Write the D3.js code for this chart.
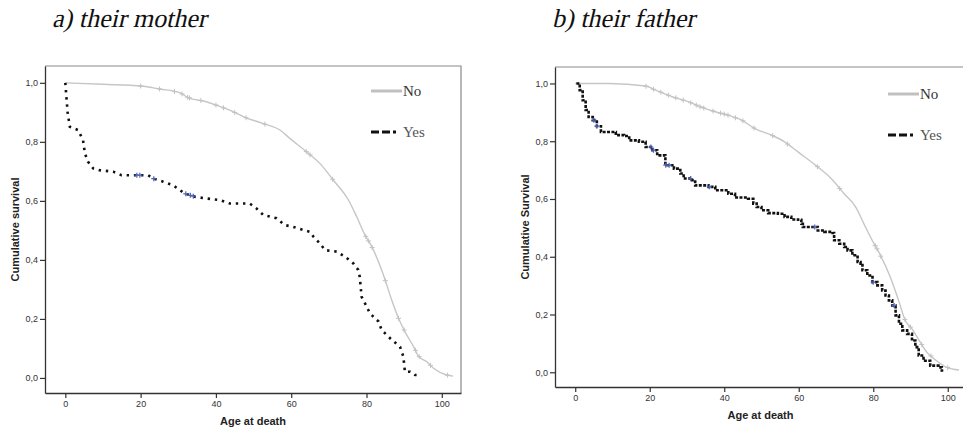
<!DOCTYPE html>
<html>
<head>
<meta charset="utf-8">
<script src="https://cdn.jsdelivr.net/npm/d3@7"></script>
<style>
  body { margin: 0; background: #fff; }
  svg { display: block; }
</style>
</head>
<body>
<div id="chart"></div>
<script>
// mother panel: survival curves
const motherNoAge = [0, 10, 20.2, 25.1, 30.4, 32.6, 37.5, 40.2, 44.1, 47.7, 52.6, 57, 59.7, 64.1, 67.6, 71.2, 75.2, 77.4, 79.6, 81.4, 84.5, 86.7, 88.5, 90.2, 92.5, 93.8, 96, 97.8, 101.3, 103];
const motherNoSurv = [1.0, 0.995, 0.989, 0.979, 0.967, 0.950, 0.936, 0.924, 0.905, 0.883, 0.862, 0.840, 0.811, 0.766, 0.727, 0.670, 0.603, 0.546, 0.484, 0.445, 0.349, 0.264, 0.202, 0.157, 0.106, 0.074, 0.055, 0.033, 0.010, 0.006];
const motherNoCensor = [20, 25, 29, 31, 32.5, 33, 36, 40, 42, 45, 48, 53, 64, 65, 71, 79.8, 80.5, 81.5, 85, 88.5, 90, 93, 94, 97, 101.5];

const motherYesAge = [0, 0.3, 0.6, 1.2, 3.4, 4.7, 5.2, 6, 7.4, 9.1, 12.7, 14.9, 22, 23.3, 26, 28.6, 30.4, 31.7, 34.4, 37.5, 41, 43.7, 49, 50.8, 52.6, 56.1, 58.3, 60.5, 65, 65.9, 67.6, 69, 72.1, 74.3, 76.5, 77.8, 78.2, 78.7, 79.6, 80.9, 83.2, 84, 86.7, 88.9, 89.8, 90.2, 91.6, 92.9, 93.5];
const motherYesSurv = [1.0, 0.95, 0.90, 0.851, 0.84, 0.806, 0.761, 0.733, 0.71, 0.704, 0.699, 0.687, 0.687, 0.676, 0.665, 0.653, 0.637, 0.625, 0.614, 0.608, 0.603, 0.591, 0.591, 0.574, 0.552, 0.541, 0.518, 0.512, 0.495, 0.479, 0.456, 0.433, 0.428, 0.411, 0.388, 0.366, 0.343, 0.275, 0.253, 0.219, 0.191, 0.163, 0.129, 0.106, 0.072, 0.021, 0.021, 0.010, 0.010];
const motherYesCensor = [19, 19.8, 23.5, 32, 33.2, 34];

// father panel
const fatherNoAge = [0, 9.1, 18.9, 21.6, 26, 30.5, 33.6, 37.6, 41.1, 44.7, 48.2, 52.7, 56.2, 59.8, 65.1, 68.7, 72.2, 75.3, 77.5, 79.7, 81.5, 84.6, 86.8, 88.6, 90.4, 92.6, 94.4, 97, 99.7, 103];
const fatherNoSurv = [1.0, 1.0, 0.991, 0.977, 0.954, 0.936, 0.919, 0.902, 0.890, 0.873, 0.844, 0.821, 0.798, 0.763, 0.711, 0.671, 0.618, 0.572, 0.514, 0.457, 0.416, 0.329, 0.249, 0.179, 0.150, 0.104, 0.069, 0.040, 0.017, 0.008];
const fatherNoCensor = [19, 21, 23, 25, 27, 29, 31, 32.5, 33.5, 34.5, 37, 39, 40, 41, 43, 45, 48, 53, 57, 65, 71, 80.5, 81, 82, 88.5, 90, 93, 95.5, 100];

const fatherYesAge = [0.3, 1.2, 2.0, 2.8, 3.6, 4.7, 5.8, 6.9, 10.9, 13.1, 14.5, 17.1, 18.9, 20.7, 22, 24.2, 26.5, 28.2, 29.1, 31.3, 32.2, 35.8, 37.6, 41.1, 42.9, 46.4, 47.8, 48.7, 50, 51.8, 54.4, 56.2, 58, 59.8, 60.7, 61.1, 65.1, 66.9, 69.1, 69.5, 70.9, 72.2, 73.1, 74.4, 75.8, 76.6, 77.1, 78.4, 79.8, 81.1, 82.4, 83.3, 84.2, 85.1, 86, 86.9, 87.8, 89.1, 90.4, 91.3, 92.2, 93.5, 95.3, 97.5, 98.4, 98.8];
const fatherYesSurv = [1.0, 0.977, 0.942, 0.908, 0.884, 0.873, 0.852, 0.832, 0.821, 0.818, 0.803, 0.798, 0.780, 0.769, 0.751, 0.717, 0.705, 0.688, 0.671, 0.665, 0.647, 0.642, 0.630, 0.618, 0.605, 0.601, 0.584, 0.572, 0.561, 0.551, 0.549, 0.538, 0.529, 0.528, 0.514, 0.503, 0.491, 0.486, 0.482, 0.457, 0.445, 0.434, 0.422, 0.405, 0.382, 0.376, 0.353, 0.335, 0.312, 0.301, 0.283, 0.266, 0.249, 0.231, 0.197, 0.168, 0.145, 0.133, 0.110, 0.087, 0.058, 0.040, 0.023, 0.017, 0.006, 0.006];
const fatherYesCensor = [5, 5.8, 20.3, 21, 24.3, 25.2, 31, 36, 64.3, 80, 85.6];

const xTicks = [0, 20, 40, 60, 80, 100];
const yTicks = [0, 0.2, 0.4, 0.6, 0.8, 1.0];
const legendLabels = ["No", "Yes"];

const panels = [
    {title: "a) their mother", ylabel: "Cumulative survival", left: 45, top: 66, right: 461, bottom: 393, titleX: 52,
     xDomain: [-5.4, 105.1],
     noAge: motherNoAge, noSurv: motherNoSurv, noCensor: motherNoCensor,
     yesAge: motherYesAge, yesSurv: motherYesSurv, yesCensor: motherYesCensor,
     yesCurve: d3.curveLinear, yesDash: "2.4,4.8", legX: 371, legY: 91},
    {title: "b) their father", ylabel: "Cumulative Survival", left: 555, top: 67, right: 966, bottom: 387, titleX: 552,
     xDomain: [-5.43, 104.9],
     noAge: fatherNoAge, noSurv: fatherNoSurv, noCensor: fatherNoCensor,
     yesAge: fatherYesAge, yesSurv: fatherYesSurv, yesCensor: fatherYesCensor,
     yesCurve: d3.curveStepAfter, yesDash: "3,1.4", legX: 888, legY: 94}
];

const svg = d3.select("#chart").append("svg")
    .attr("width", 963)
    .attr("height", 432);

panels.forEach(p => {
    const x = d3.scaleLinear().domain(p.xDomain).range([p.left, p.right]);
    const y = d3.scaleLinear().domain([-0.051, 1.057]).range([p.bottom, p.top]);

    const g = svg.append("g");

    // serif title, slanted by hand since the italic face falls back to a sans
    g.append("text")
        .attr("transform", `translate(${p.titleX},27) skewX(-13)`)
        .attr("font-family", "'Liberation Serif', 'Times New Roman', serif")
        .attr("font-size", 26)
        .attr("fill", "#111")
        .text(p.title);

    // frame top and right
    g.append("path")
        .attr("d", `M${p.left},${p.top}H${p.right}V${p.bottom}`)
        .attr("fill", "none")
        .attr("stroke", "#8a8a8a")
        .attr("stroke-width", 1.2);

    const xAxis = g.append("g")
        .attr("transform", `translate(0,${p.bottom})`)
        .call(d3.axisBottom(x).tickValues(xTicks).tickSize(5).tickPadding(3).tickSizeOuter(0));
    const yAxis = g.append("g")
        .attr("transform", `translate(${p.left},0)`)
        .call(d3.axisLeft(y).tickValues(yTicks).tickSize(5).tickPadding(2).tickSizeOuter(0)
            .tickFormat(d => d3.format(".1f")(d).replace(".", ",")));
    [xAxis, yAxis].forEach(a => {
        a.select(".domain").attr("stroke", "#333").attr("stroke-width", 1.3);
        a.selectAll(".tick line").attr("stroke", "#333").attr("stroke-width", 1.2);
        a.selectAll("text").attr("fill", "#333").attr("font-family", "Arial, 'Liberation Sans', sans-serif").attr("font-size", 9);
    });

    g.append("text")
        .attr("x", (p.left + p.right) / 2)
        .attr("y", p.bottom + 32)
        .attr("text-anchor", "middle")
        .attr("font-family", "Arial, 'Liberation Sans', sans-serif")
        .attr("font-weight", "bold")
        .attr("font-size", 11)
        .attr("fill", "#222")
        .text("Age at death");

    g.append("text")
        .attr("transform", `translate(${p.left - 26},${(p.top + p.bottom) / 2}) rotate(-90)`)
        .attr("text-anchor", "middle")
        .attr("font-family", "Arial, 'Liberation Sans', sans-serif")
        .attr("font-weight", "bold")
        .attr("font-size", 11)
        .attr("fill", "#222")
        .text(p.ylabel);

    const clipId = "clip" + p.left;
    svg.append("clipPath").attr("id", clipId)
        .append("rect").attr("x", p.left + 1).attr("y", p.top).attr("width", p.right - p.left - 1).attr("height", p.bottom - p.top - 1);
    const plot = g.append("g").attr("clip-path", `url(#${clipId})`);

    const noData = p.noAge.map((a, i) => [a, p.noSurv[i]]);
    const yesData = p.yesAge.map((a, i) => [a, p.yesSurv[i]]);
    const smooth = d3.line().x(d => x(d[0])).y(d => y(d[1])).curve(d3.curveMonotoneX);
    const yesLine = d3.line().x(d => x(d[0])).y(d => y(d[1])).curve(p.yesCurve);

    plot.append("path")
        .datum(noData)
        .attr("d", smooth)
        .attr("fill", "none")
        .attr("stroke", "#c6c6c6")
        .attr("stroke-width", 1.4);

    const noInterp = d3.scaleLinear().domain(p.noAge).range(p.noSurv);
    plot.selectAll(".cn")
        .data(p.noCensor)
        .join("path")
        .attr("d", d => `M${x(d) - 2.5},${y(noInterp(d))}h5M${x(d)},${y(noInterp(d)) - 2.5}v5`)
        .attr("stroke", "#c2c2c2")
        .attr("stroke-width", 1);

    plot.append("path")
        .datum(yesData)
        .attr("d", yesLine)
        .attr("fill", "none")
        .attr("stroke", "#111")
        .attr("stroke-width", 2.6)
        .attr("stroke-dasharray", p.yesDash);

    const yesInterp = d3.scaleLinear().domain(p.yesAge).range(p.yesSurv);
    const yesStep = a => {
        if (p.yesCurve === d3.curveLinear) return yesInterp(a);
        let v = p.yesSurv[0];
        p.yesAge.forEach((b, i) => { if (b <= a) v = p.yesSurv[i]; });
        return v;
    };
    plot.selectAll(".cy")
        .data(p.yesCensor)
        .join("path")
        .attr("d", d => `M${x(d) - 2.5},${y(yesStep(d))}h5M${x(d)},${y(yesStep(d)) - 2.5}v5`)
        .attr("stroke", "#4a62b8")
        .attr("stroke-width", 1.2);

    // legend
    const leg = g.append("g");
    leg.append("line")
        .attr("x1", p.legX).attr("x2", p.legX + 31)
        .attr("y1", p.legY).attr("y2", p.legY)
        .attr("stroke", "#c0c0c0").attr("stroke-width", 3);
    leg.append("line")
        .attr("x1", p.legX).attr("x2", p.legX + 31)
        .attr("y1", p.legY + 41).attr("y2", p.legY + 41)
        .attr("stroke", "#111").attr("stroke-width", 3)
        .attr("stroke-dasharray", "8,3,8,3,3,6");
    leg.selectAll("text")
        .data(legendLabels)
        .join("text")
        .attr("x", p.legX + 32)
        .attr("y", (d, i) => p.legY + 5 + i * 41)
        .attr("font-family", "'Liberation Serif', 'Times New Roman', serif")
        .attr("font-size", 15)
        .attr("fill", (d, i) => i == 0 ? "#333" : "#555")
        .text(d => d);
});
</script>
</body>
</html>
